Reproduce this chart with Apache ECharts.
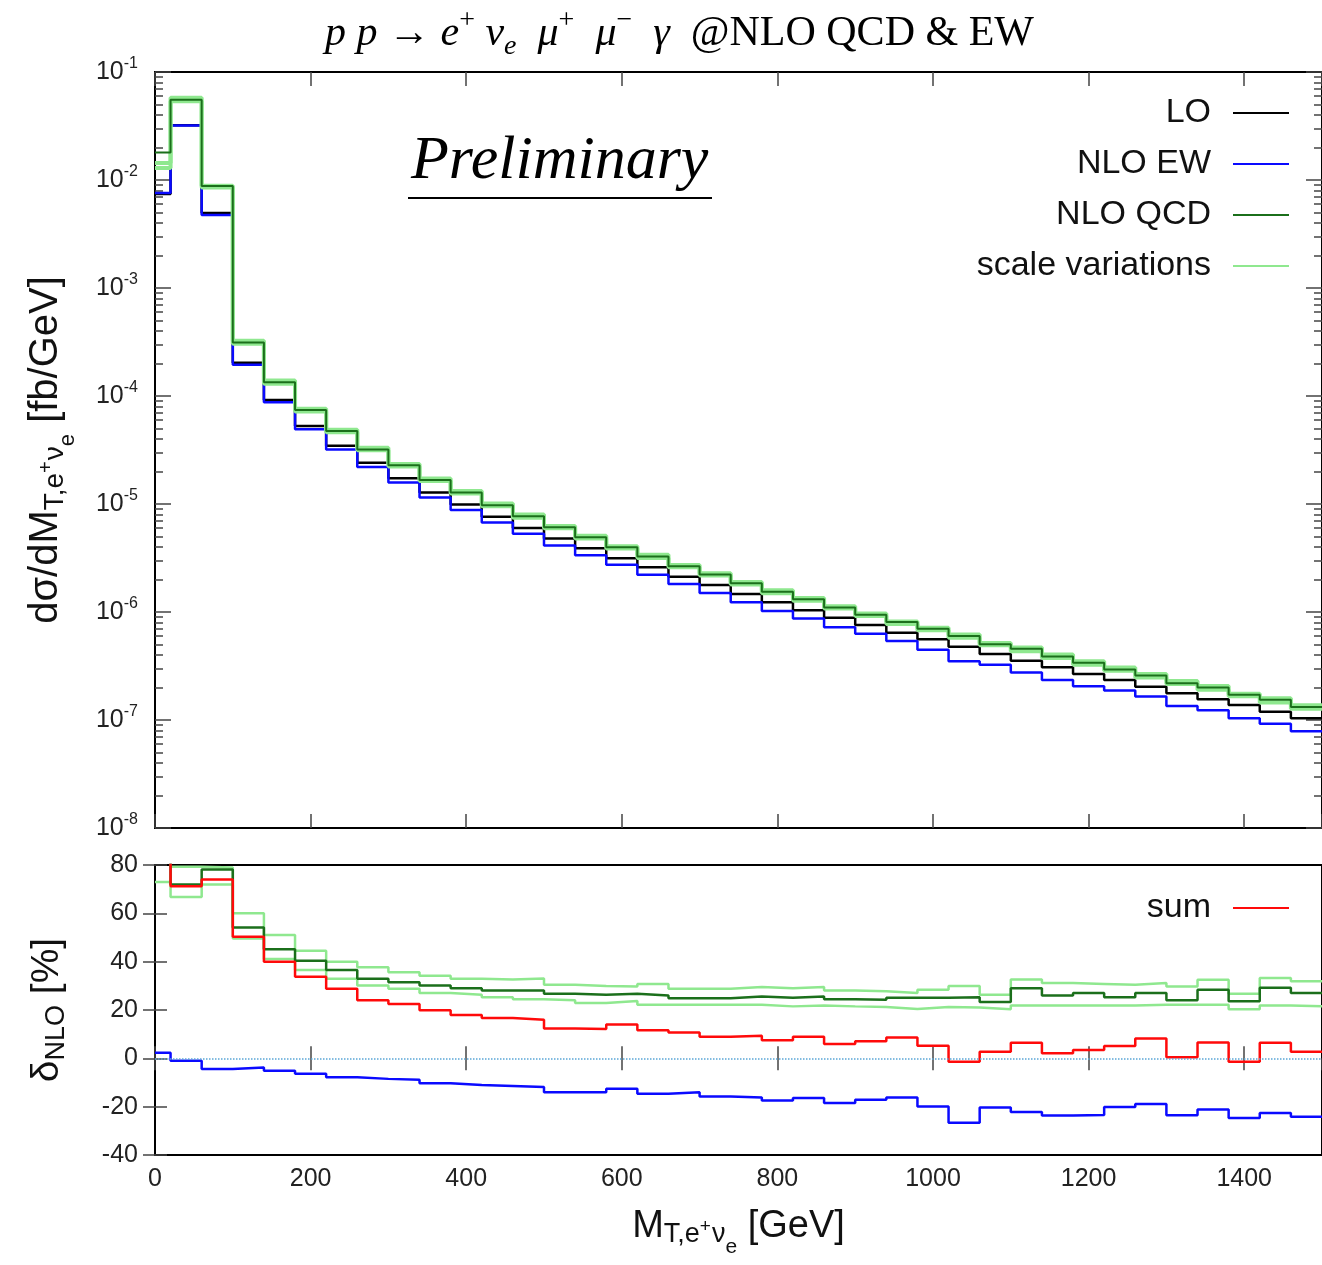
<!DOCTYPE html>
<html>
<head>
<meta charset="utf-8">
<script src="https://cdn.jsdelivr.net/npm/echarts@6/dist/echarts.min.js"></script>
<style>
  body { margin: 0; background: #fff; }
  #chart { width: 1322px; height: 1265px; }
</style>
</head>
<body>
<div id="chart"></div>
<script>
// bin edges in GeV (38 bins, first one 0-20)
const edges = [0, 20, 60, 100, 140, 180, 220, 260, 300, 340, 380, 420, 460, 500, 540, 580, 620, 660, 700,
  740, 780, 820, 860, 900, 940, 980, 1020, 1060, 1100, 1140, 1180, 1220, 1260, 1300, 1340, 1380, 1420, 1460, 1500];

// top panel: dsigma/dM [fb/GeV]
const lo = [7.4e-3, 3.22e-2, 4.95e-3, 2.03e-4, 9.2e-5, 5.27e-5, 3.47e-5, 2.41e-5, 1.73e-5, 1.28e-5,
  9.9e-6, 7.6e-6, 6.0e-6, 4.8e-6, 3.9e-6, 3.14e-6, 2.59e-6, 2.12e-6, 1.78e-6, 1.47e-6,
  1.23e-6, 1.04e-6, 8.85e-7, 7.58e-7, 6.44e-7, 5.58e-7, 4.77e-7, 4.08e-7, 3.54e-7, 3.08e-7,
  2.67e-7, 2.35e-7, 2.03e-7, 1.77e-7, 1.56e-7, 1.38e-7, 1.19e-7, 1.04e-7];
const nloEw = [7.57e-3, 3.19e-2, 4.73e-3, 1.95e-4, 8.73e-5, 4.93e-5, 3.2e-5, 2.2e-5, 1.58e-5, 1.15e-5,
  8.81e-6, 6.73e-6, 5.29e-6, 4.13e-6, 3.35e-6, 2.74e-6, 2.21e-6, 1.82e-6, 1.5e-6, 1.23e-6,
  1.02e-6, 8.69e-7, 7.21e-7, 6.28e-7, 5.4e-7, 4.47e-7, 3.5e-7, 3.25e-7, 2.75e-7, 2.35e-7,
  2.05e-7, 1.88e-7, 1.65e-7, 1.35e-7, 1.23e-7, 1.04e-7, 9.21e-8, 7.88e-8];
const nloQcd = [1.8e-2, 5.54e-2, 8.82e-3, 3.13e-4, 1.34e-4, 7.4e-5, 4.74e-5, 3.2e-5, 2.28e-5, 1.67e-5,
  1.28e-5, 9.74e-6, 7.69e-6, 6.08e-6, 4.93e-6, 3.98e-6, 3.26e-6, 2.65e-6, 2.22e-6, 1.85e-6,
  1.54e-6, 1.31e-6, 1.1e-6, 9.41e-7, 8.06e-7, 6.98e-7, 5.98e-7, 5.03e-7, 4.57e-7, 3.88e-7,
  3.39e-7, 2.94e-7, 2.58e-7, 2.19e-7, 2.0e-7, 1.71e-7, 1.54e-7, 1.32e-7];
const scaleUp = [1.44e-2, 5.77e-2, 8.86e-3, 3.25e-4, 1.39e-4, 7.62e-5, 4.86e-5, 3.32e-5, 2.35e-5, 1.72e-5,
  1.32e-5, 1.01e-5, 7.98e-6, 6.26e-6, 5.07e-6, 4.07e-6, 3.39e-6, 2.73e-6, 2.29e-6, 1.9e-6,
  1.59e-6, 1.35e-6, 1.13e-6, 9.69e-7, 8.18e-7, 7.16e-7, 6.2e-7, 5.15e-7, 4.69e-7, 4.04e-7,
  3.49e-7, 3.06e-7, 2.66e-7, 2.3e-7, 2.07e-7, 1.75e-7, 1.59e-7, 1.37e-7];
const scaleDown = [1.29e-2, 5.37e-2, 8.51e-3, 3.04e-4, 1.3e-4, 7.2e-5, 4.61e-5, 3.14e-5, 2.23e-5, 1.63e-5,
  1.25e-5, 9.52e-6, 7.46e-6, 5.95e-6, 4.79e-6, 3.88e-6, 3.17e-6, 2.59e-6, 2.18e-6, 1.8e-6,
  1.49e-6, 1.27e-6, 1.08e-6, 9.19e-7, 7.75e-7, 6.76e-7, 5.77e-7, 4.91e-7, 4.32e-7, 3.75e-7,
  3.25e-7, 2.86e-7, 2.48e-7, 2.16e-7, 1.91e-7, 1.66e-7, 1.45e-7, 1.27e-7];

// bottom panel: delta_NLO [%]
const dEw = [2.3, -1.0, -4.4, -3.8, -5.1, -6.4, -7.8, -8.5, -8.9, -10.3,
  -11.0, -11.4, -11.9, -14.0, -14.0, -12.6, -14.7, -14.0, -15.8, -16.2,
  -17.4, -16.4, -18.5, -17.1, -16.2, -19.9, -26.7, -20.3, -22.2, -23.7,
  -23.4, -20.1, -18.9, -23.6, -21.2, -24.7, -22.6, -24.2];
const dQcd = [143, 71.9, 78.1, 54.1, 45.1, 40.4, 36.6, 32.9, 31.5, 30.1,
  29.0, 28.1, 28.1, 26.7, 26.3, 26.7, 26.0, 24.9, 24.9, 25.6,
  25.1, 25.6, 24.4, 24.2, 25.1, 25.1, 25.3, 23.3, 29.0, 26.0,
  27.0, 25.3, 27.0, 24.0, 28.4, 23.6, 29.2, 27.0];
const dSum = [145, 71.2, 74.0, 50.3, 40.0, 33.8, 28.8, 24.0, 22.5, 19.9,
  17.9, 16.7, 16.0, 12.3, 12.1, 14.0, 11.6, 10.7, 8.9, 9.3,
  7.5, 8.9, 5.9, 7.1, 8.6, 5.2, -1.4, 2.7, 6.4, 2.1,
  3.4, 5.1, 8.2, 0.4, 6.6, -1.4, 6.4, 2.7];
const dScaleUp = [95, 79.3, 79.0, 60.0, 51.0, 44.5, 40.0, 37.7, 35.6, 34.2,
  32.9, 32.6, 33.0, 30.4, 29.9, 29.7, 30.8, 28.8, 28.8, 29.5,
  29.0, 29.5, 28.1, 27.8, 27.0, 28.4, 29.9, 26.3, 32.6, 31.2,
  30.8, 30.4, 31.2, 29.7, 32.5, 26.7, 33.2, 31.9];
const dScaleDown = [73.0, 66.8, 71.9, 49.6, 41.1, 36.6, 32.9, 30.1, 28.8, 27.0,
  26.3, 25.3, 24.4, 24.0, 22.9, 23.7, 22.2, 22.2, 22.2, 22.2,
  21.5, 21.9, 21.5, 21.2, 20.4, 21.2, 21.0, 20.3, 21.9, 21.9,
  21.9, 21.9, 22.2, 22.2, 22.2, 20.3, 21.9, 21.6];

const decades = [1e-8, 1e-7, 1e-6, 1e-5, 1e-4, 1e-3, 1e-2, 1e-1];

// minor log ticks 2..9 in each decade
const minorTicks = [];
for (let e = -8; e < -1; e++) {
  for (let k = 2; k <= 9; k++) minorTicks.push(k * Math.pow(10, e));
}

const sans = "'Liberation Sans', Arial, Helvetica, sans-serif";
const serif = "'Liberation Serif', 'DejaVu Serif', 'Times New Roman', serif";
const BLUE = "#0a0aff", DKGREEN = "#1b6f1b", LTGREEN = "#8fe88f", RED = "#ff0a0a";

// histogram as step line: each bin value starts at its left edge
function steps(vals) {
  return edges.map((x, i) => [x, vals[Math.min(i, vals.length - 1)]]);
}

function hist(name, vals, color, width, xi, yi, extra) {
  return Object.assign({
    name: name,
    type: "line",
    step: "end",
    symbol: "none",
    xAxisIndex: xi,
    yAxisIndex: yi,
    clip: true,
    itemStyle: { color: color },
    lineStyle: { color: color, width: width },
    data: steps(vals)
  }, extra || {});
}

// rich styles for the axis names; sub/superscripts are shifted with top padding
function nameRich(size) {
  return {
    m: { fontFamily: sans, fontSize: size, color: "#111", verticalAlign: "middle" },
    s: { fontFamily: sans, fontSize: Math.round(size * 0.7), color: "#111", verticalAlign: "middle", padding: [Math.round(size * 0.46), 0, 0, 0] },
    p: { fontFamily: sans, fontSize: Math.round(size * 0.5), color: "#111", verticalAlign: "middle", padding: [0, 1, 0, 0] },
    ss: { fontFamily: sans, fontSize: Math.round(size * 0.55), color: "#111", verticalAlign: "middle", padding: [Math.round(size * 1.1), 0, 0, 0] }
  };
}

const tickStyle = { color: "#444", width: 1.5 };

function logAxis(pos, ticks, len, labels) {
  return {
    type: "log", gridIndex: 0, position: pos, min: 1e-8, max: 1e-1, logBase: 10,
    axisLine: { show: false },
    splitLine: { show: false },
    axisTick: { show: true, inside: true, length: len, lineStyle: tickStyle, customValues: ticks },
    axisLabel: labels ? {
      show: true, margin: 17, customValues: decades,
      formatter: v => "{a|10}{b|" + Math.round(Math.log10(v)) + "}",
      rich: {
        a: { fontFamily: sans, fontSize: 25, color: "#222", lineHeight: 32 },
        b: { fontFamily: sans, fontSize: 16, color: "#222", lineHeight: 18, verticalAlign: "top" }
      }
    } : { show: false }
  };
}

const legendText = { fontFamily: sans, fontSize: 34, color: "#111", lineHeight: 34, padding: [0, 17, 0, 0] };

const chart = echarts.init(document.getElementById("chart"));
chart.setOption({
  animation: false,
  backgroundColor: "#fff",
  title: {
    text: "{i|p p }{r|→ }{i|e}{sp|+}{i| ν}{sb|e}{i|  μ}{sp|+}{i|  μ}{sp|−}{i|  γ  }{r|@NLO QCD & EW}",
    left: 320,
    top: 2,
    textStyle: {
      fontWeight: "normal",
      rich: {
        i: { fontFamily: serif, fontStyle: "italic", fontWeight: "normal", fontSize: 42, color: "#000", lineHeight: 54 },
        r: { fontFamily: serif, fontWeight: "normal", fontSize: 42, color: "#000", lineHeight: 54 },
        sp: { fontFamily: serif, fontWeight: "normal", fontSize: 28, color: "#000", lineHeight: 22, verticalAlign: "top" },
        sb: { fontFamily: serif, fontStyle: "italic", fontWeight: "normal", fontSize: 28, color: "#000", lineHeight: 32, verticalAlign: "bottom" }
      }
    }
  },
  grid: [
    { left: 155, top: 72, width: 1167, height: 756, show: true, borderColor: "#000", borderWidth: 2 },
    { left: 155, top: 865, width: 1167, height: 290, show: true, borderColor: "#000", borderWidth: 2 }
  ],
  legend: [
    {
      data: ["LO", "NLO EW", "NLO QCD", "scale variations"],
      orient: "vertical", right: 28, top: 91, align: "right", icon: "rect",
      itemWidth: 56, itemHeight: 2, itemGap: 17, selectedMode: false,
      textStyle: legendText
    },
    {
      data: ["sum"],
      orient: "vertical", right: 28, top: 886, align: "right", icon: "rect",
      itemWidth: 56, itemHeight: 2, selectedMode: false,
      textStyle: legendText
    }
  ],
  xAxis: [
    {
      type: "value", gridIndex: 0, min: 0, max: 1500, interval: 200,
      axisLine: { show: false }, splitLine: { show: false },
      axisTick: { inside: true, length: 14, lineStyle: tickStyle },
      axisLabel: { show: false }
    },
    {
      type: "value", gridIndex: 0, position: "top", min: 0, max: 1500, interval: 200,
      axisLine: { show: false }, splitLine: { show: false },
      axisTick: { inside: true, length: 14, lineStyle: tickStyle },
      axisLabel: { show: false }
    },
    {
      type: "value", gridIndex: 1, min: 0, max: 1500, interval: 200,
      axisLine: { show: false }, splitLine: { show: false },
      axisTick: { inside: true, length: 12, lineStyle: tickStyle },
      axisLabel: { margin: 12, fontFamily: sans, fontSize: 25, color: "#222", showMaxLabel: false, formatter: v => String(v) },
      name: "{m|M}{s|T,e}{p|+}{s|ν}{ss|e}{m| [GeV]}",
      nameLocation: "middle", nameGap: 40,
      nameTextStyle: { rich: nameRich(38) }
    },
    {
      type: "value", gridIndex: 1, position: "top", min: 0, max: 1500, interval: 200,
      axisLine: { show: false }, splitLine: { show: false },
      axisTick: { inside: true, length: 12, lineStyle: tickStyle },
      axisLabel: { show: false }
    }
  ],
  yAxis: [
    Object.assign(logAxis("left", decades, 16, true), {
      name: "{m|dσ/dM}{s|T,e}{p|+}{s|ν}{ss|e}{m| [fb/GeV]}",
      nameLocation: "middle", nameGap: 76, nameRotate: 90,
      nameTextStyle: { rich: nameRich(40) }
    }),
    logAxis("left", minorTicks, 8, false),
    logAxis("right", decades, 16, false),
    logAxis("right", minorTicks, 8, false),
    {
      type: "value", gridIndex: 1, min: -40, max: 80, interval: 20,
      axisLine: { show: false }, splitLine: { show: false },
      axisTick: { inside: true, length: 12, lineStyle: tickStyle },
      axisLabel: { margin: 17, fontFamily: sans, fontSize: 25, color: "#222" },
      name: "{m|δ}{s|NLO}{m| [%]}",
      nameLocation: "middle", nameGap: 85, nameRotate: 90,
      nameTextStyle: { rich: nameRich(39) }
    },
    {
      type: "value", gridIndex: 1, position: "right", min: -40, max: 80, interval: 20,
      axisLine: { show: false }, splitLine: { show: false },
      axisTick: { inside: true, length: 12, lineStyle: tickStyle },
      axisLabel: { show: false }
    }
  ],
  graphic: [
    {
      type: "text", left: 411, top: 131,
      style: { text: "Preliminary", font: "italic 62px " + serif, fill: "#000" }
    },
    {
      type: "line", shape: { x1: 408, y1: 198, x2: 712, y2: 198 },
      style: { stroke: "#000", lineWidth: 2 }
    }
  ],
  series: [
    // top panel
    hist("LO", lo, "#000", 2.5, 0, 0),
    hist("NLO EW", nloEw, BLUE, 2.5, 0, 0),
    hist("scale variations", scaleUp, LTGREEN, 4, 0, 0),
    hist("scale variations", scaleDown, LTGREEN, 4, 0, 0),
    hist("NLO QCD", nloQcd, DKGREEN, 2, 0, 0),
    // bottom panel
    hist("scale variations", dScaleUp, LTGREEN, 2.5, 2, 4),
    hist("scale variations", dScaleDown, LTGREEN, 2.5, 2, 4),
    hist("NLO QCD", dQcd, DKGREEN, 2.5, 2, 4),
    hist("NLO EW", dEw, BLUE, 2.5, 2, 4, {
      markLine: {
        silent: true, symbol: ["none", "none"], label: { show: false },
        lineStyle: { color: "#5aa6d6", type: "dotted", width: 1.5 },
        data: [{ yAxis: 0 }]
      }
    }),
    hist("sum", dSum, RED, 2.5, 2, 4)
  ]
});
</script>
</body>
</html>
